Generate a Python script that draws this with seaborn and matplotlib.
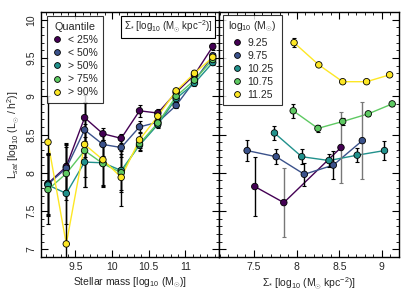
import numpy as np
import pandas as pd
import seaborn as sns
import matplotlib.pyplot as plt
from matplotlib.lines import Line2D

sns.set_style("white")
plt.rcParams["font.family"] = ["Liberation Sans", "DejaVu Sans"]
plt.rcParams["mathtext.fontset"] = "custom"
plt.rcParams["mathtext.rm"] = "Liberation Sans"
plt.rcParams["mathtext.it"] = "Liberation Sans:italic"
plt.rcParams["mathtext.bf"] = "Liberation Sans:bold"

# left panel: satellite luminosity vs stellar mass, split by Sigma* quantile
mass_bins = [9.125, 9.375, 9.625, 9.875, 10.125, 10.375, 10.625, 10.875, 11.125, 11.375]
quantiles = ["< 25%", "< 50%", "> 50%", "> 75%", "> 90%"]
lsat_q25 = [7.86, 8.08, 8.72, 8.51, 8.45, 8.81, 8.78, 9.05, 9.28, 9.65]
lsat_q50lo = [7.85, 8.06, 8.56, 8.37, 8.33, 8.60, 8.66, 8.88, 9.20, 9.53]
lsat_q50hi = [7.84, 7.73, 8.14, 8.13, 8.03, 8.36, 8.63, 8.97, 9.17, 9.44]
lsat_q75 = [7.78, 7.99, 8.29, 8.12, 8.00, 8.38, 8.65, 9.00, 9.21, 9.48]
lsat_q90 = [8.40, 7.07, 8.37, 8.17, 7.94, 8.43, 8.74, 9.07, 9.30, 9.51]
err_q25 = [0.40, 0.30, 0.30, 0.08, 0.06, 0.08, 0.05, 0.04, 0.04, 0.04]
err_q50lo = [0.40, 0.30, 0.35, 0.15, 0.12, 0.08, 0.05, 0.04, 0.04, 0.04]
err_q50hi = [0.40, 0.40, 0.33, 0.30, 0.25, 0.08, 0.05, 0.04, 0.03, 0.03]
err_q75 = [0.45, 0.35, 0.35, 0.28, 0.25, 0.08, 0.05, 0.04, 0.03, 0.03]
err_q90 = [0.60, 1.32, 0.55, 0.35, 0.38, 0.10, 0.05, 0.04, 0.04, 0.04]

# right panel: satellite luminosity vs Sigma*, split by stellar mass
mass_labels = ["9.25", "9.75", "10.25", "10.75", "11.25"]
sig_925 = [7.51, 7.85, 8.52]
lsat_925 = [7.82, 7.61, 8.33]
err_925 = [0.38, 0.45, 0.47]
sig_975 = [7.42, 7.76, 8.09, 8.43, 8.77]
lsat_975 = [8.29, 8.21, 7.98, 8.10, 8.42]
err_975 = [0.14, 0.10, 0.15, 0.18, 0.50]
sig_1025 = [7.74, 8.06, 8.38, 8.71, 9.03]
lsat_1025 = [8.52, 8.21, 8.16, 8.23, 8.29]
err_1025 = [0.09, 0.10, 0.08, 0.09, 0.12]
sig_1075 = [7.96, 8.25, 8.54, 8.84, 9.12]
lsat_1075 = [8.81, 8.58, 8.67, 8.77, 8.90]
err_1075 = [0.09, 0.05, 0.05, 0.03, 0.03]
sig_1125 = [7.97, 8.26, 8.54, 8.82, 9.09]
lsat_1125 = [9.70, 9.41, 9.19, 9.19, 9.28]
err_1125 = [0.06, 0.02, 0.02, 0.02, 0.02]

left_rows = []
for q, ys, es in zip(quantiles,
                     [lsat_q25, lsat_q50lo, lsat_q50hi, lsat_q75, lsat_q90],
                     [err_q25, err_q50lo, err_q50hi, err_q75, err_q90]):
    for x, y, e in zip(mass_bins, ys, es):
        left_rows.append({"group": q, "x": x, "y": y, "err": e})
df_left = pd.DataFrame(left_rows)

right_rows = []
for m, xs, ys, es in zip(mass_labels,
                         [sig_925, sig_975, sig_1025, sig_1075, sig_1125],
                         [lsat_925, lsat_975, lsat_1025, lsat_1075, lsat_1125],
                         [err_925, err_975, err_1025, err_1075, err_1125]):
    for x, y, e in zip(xs, ys, es):
        right_rows.append({"group": m, "x": x, "y": y, "err": e})
df_right = pd.DataFrame(right_rows)

colors = ["#440154", "#3b528b", "#21918c", "#5ec962", "#fde725"]

fig = plt.figure(figsize=(4.11, 2.94), dpi=100)
ax1 = fig.add_axes([0.0998, 0.126, 0.433, 0.833])
ax2 = fig.add_axes([0.5328, 0.126, 0.438, 0.833], sharey=ax1)


def draw_panel(ax, df, order, big_grey):
    pal = dict(zip(order, colors))
    sns.lineplot(data=df, x="x", y="y", hue="group", hue_order=order,
                 palette=pal, sort=False, estimator=None, lw=1.0,
                 legend=False, ax=ax, zorder=1)
    for g in order:
        sub = df[df["group"] == g]
        for _, r in sub.iterrows():
            ec = "#777777" if (big_grey and r["err"] > 0.4) else "black"
            ax.errorbar(r["x"], r["y"], yerr=r["err"], fmt="none",
                        ecolor=ec, elinewidth=1.0, capsize=1.6,
                        capthick=0.8, zorder=2)
    sns.scatterplot(data=df, x="x", y="y", hue="group", hue_order=order,
                    palette=pal, s=22, edgecolor="black", linewidth=0.6,
                    legend=False, ax=ax, zorder=3)
    handles = [Line2D([], [], ls="none", marker="o", ms=4.2, mfc=c,
                      mec="black", mew=0.6) for c in colors]
    return handles


h1 = draw_panel(ax1, df_left, quantiles, False)
h2 = draw_panel(ax2, df_right, mass_labels, True)

ax1.set_xlim(9.03, 11.46)
ax2.set_xlim(7.09, 9.2)
ax1.set_ylim(6.9, 10.1)

for ax in (ax1, ax2):
    ax.minorticks_on()
    ax.tick_params(which="both", direction="in", top=True, right=True,
                   bottom=True, left=True, labelsize=7.5, color="black")
    ax.tick_params(which="major", length=5, width=0.8)
    ax.tick_params(which="minor", length=2.5, width=0.6)
    for s in ax.spines.values():
        s.set_color("black")
        s.set_linewidth(1.0)

ax1.set_xticks([9.5, 10, 10.5, 11])
ax1.set_xticklabels(["9.5", "10", "10.5", "11"])
ax1.xaxis.set_minor_locator(plt.MultipleLocator(0.1))
ax2.set_xticks([7.5, 8, 8.5, 9])
ax2.set_xticklabels(["7.5", "8", "8.5", "9"])
ax2.xaxis.set_minor_locator(plt.MultipleLocator(0.1))
ax1.set_yticks([7, 7.5, 8, 8.5, 9, 9.5, 10])
ax1.set_yticklabels(["7", "7.5", "8", "8.5", "9", "9.5", "10"])
ax1.yaxis.set_minor_locator(plt.MultipleLocator(0.1))
ax1.tick_params(axis="y", labelrotation=90)
for lab in ax1.get_yticklabels():
    lab.set_va("center")
ax2.tick_params(axis="y", labelleft=False)

ax1.set_xlabel(r"Stellar mass [log$_{10}$ (M$_{\odot}$)]", fontsize=7.5, labelpad=3)
ax2.set_xlabel(r"$\Sigma_{*}$ [log$_{10}$ (M$_{\odot}$ kpc$^{-2}$)]", fontsize=7.5, labelpad=3)
ax1.set_ylabel(r"L$_{sat}$ [log$_{10}$ (L$_{\odot}$ / h$^{2}$)]", fontsize=7.5, labelpad=3)
ax2.set_ylabel("")

leg1 = ax1.legend(h1, quantiles, title="Quantile", loc="upper left",
                  bbox_to_anchor=(0.034, 0.982), borderaxespad=0,
                  fontsize=7.5, title_fontsize=7.8, frameon=True, fancybox=False,
                  handlelength=1.0, handletextpad=0.5, labelspacing=0.3,
                  borderpad=0.5, edgecolor="black")
leg1.get_frame().set_linewidth(0.8)
leg1.set_zorder(5)

ax1.text(0.962, 0.972, r"$\Sigma_{*}$ [log$_{10}$ (M$_{\odot}$ kpc$^{-2}$)]",
         transform=ax1.transAxes, ha="right", va="top", fontsize=7,
         bbox=dict(boxstyle="square,pad=0.3", fc="white", ec="black", lw=0.8),
         zorder=6)

leg2 = ax2.legend(h2, mass_labels, title=r"log$_{10}$ (M$_{\odot}$)", loc="upper left",
                  bbox_to_anchor=(0.022, 0.988), borderaxespad=0,
                  fontsize=7.5, title_fontsize=7.5, frameon=True, fancybox=False,
                  handlelength=1.0, handletextpad=0.5, labelspacing=0.3,
                  borderpad=0.5, edgecolor="black")
leg2.get_frame().set_linewidth(0.8)
leg2.set_zorder(5)

fig.savefig("out.png", dpi=100)
